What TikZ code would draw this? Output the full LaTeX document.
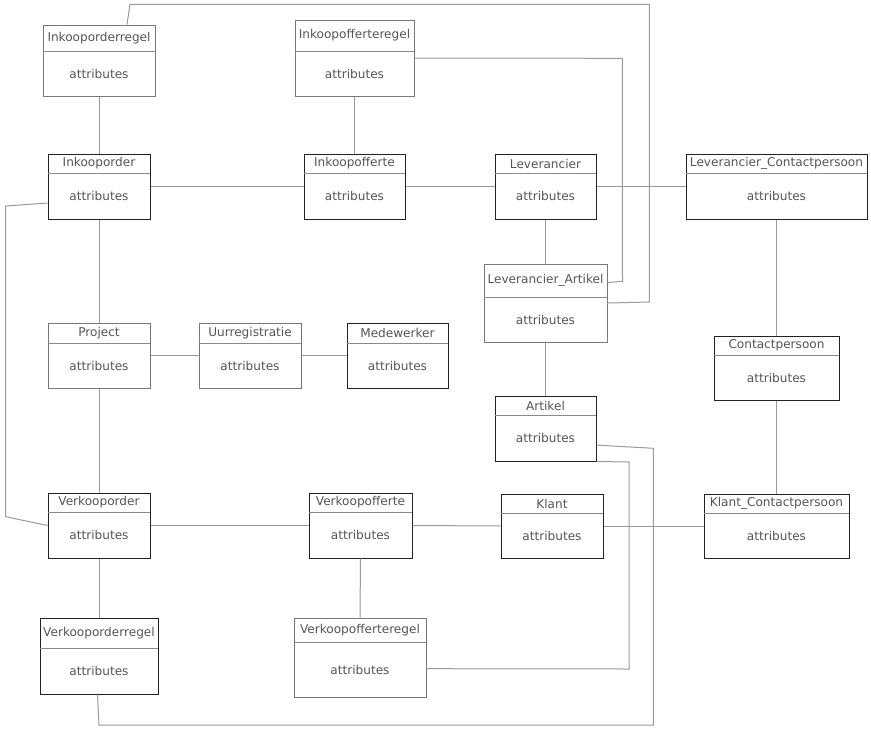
\documentclass[tikz,border=0pt]{standalone}
\usepackage{fontspec}
\setmainfont{DejaVu Sans}
\usetikzlibrary{fit}
\definecolor{txt}{HTML}{555555}
\definecolor{dk}{HTML}{222222}
\definecolor{gr}{HTML}{787878}
\definecolor{hd}{HTML}{8A8A8A}
\definecolor{cn}{HTML}{9A9A9A}
\tikzset{
  lbl/.style={text=txt, font=\fontsize{12.1}{14}\selectfont, inner sep=0pt},
  hdr/.style={draw=hd, line width=1pt},
  conn/.style={draw=cn, line width=1pt},
}
\newcommand\ent[8]{%
  \node[fit={(#2,#3) (#4,#5)}, inner sep=0pt, draw=#8, line width=1pt] (#1) {};
  \draw[hdr] (#2,#6) -- (#4,#6);
  \node[lbl] (#1-t) at ({(#2+#4)/2},{(#3+#6)/2}) {#7};
  \node[lbl] (#1-a) at ({(#2+#4)/2},{(#6+#5)/2}) {attributes};
}
\begin{document}
\begin{tikzpicture}[x=1pt,y=-1pt]
\fill[white] (0,0) rectangle (871,729);
\useasboundingbox (0,0) rectangle (871,729);
\ent{ior}{43}{25}{155}{96}{51}{Inkooporderregel}{gr}
\ent{iofr}{295}{20}{414}{96}{51}{Inkoopofferteregel}{gr}
\ent{io}{48}{154}{150}{219}{173}{Inkooporder}{dk}
\ent{iof}{304}{154}{405}{219}{173}{Inkoopofferte}{dk}
\ent{lev}{495}{154}{596}{219}{173}{Leverancier}{dk}
\ent{lcp}{686}{154}{867}{219}{173}{Leverancier\_Contactpersoon}{dk}
\ent{lart}{484}{264}{607}{342}{297}{Leverancier\_Artikel}{gr}
\ent{art}{495}{396}{596}{461}{415}{Artikel}{dk}
\ent{cp}{714}{336}{839}{400}{355}{Contactpersoon}{dk}
\ent{prj}{48}{323}{150}{388}{343}{Project}{gr}
\ent{uur}{199}{323}{301}{388}{343}{Uurregistratie}{gr}
\ent{med}{347}{323}{448}{388}{343}{Medewerker}{dk}
\ent{vo}{48}{493}{150}{558}{512}{Verkooporder}{dk}
\ent{vof}{309}{493}{412}{558}{512}{Verkoopofferte}{dk}
\ent{kl}{501}{494}{603}{558}{513}{Klant}{dk}
\ent{kcp}{704}{494}{849}{558}{513}{Klant\_Contactpersoon}{dk}
\ent{vor}{40}{618}{158}{694}{648}{Verkooporderregel}{dk}
\ent{vofr}{294}{618}{426}{697}{642}{Verkoopofferteregel}{gr}
% straight connectors
\draw[conn] (ior.south) -- (io.north);
\draw[conn] (iofr.south) -- (iof.north);
\draw[conn] (io.east) -- (iof.west);
\draw[conn] (iof.east) -- (lev.west);
\draw[conn] (lev.east) -- (lcp.west);
\draw[conn] (lev.south) -- (lart.north);
\draw[conn] (lart.south) -- (art.north);
\draw[conn] (lcp.south) -- (cp.north);
\draw[conn] (cp.south) -- (kcp.north);
\draw[conn] (io.south) -- (prj.north);
\draw[conn] (prj.south) -- (vo.north);
\draw[conn] (prj.east) -- (uur.west);
\draw[conn] (uur.east) -- (med.west);
\draw[conn] (vo.east) -- (vof.west);
\draw[conn] (vof.east) -- (kl.west);
\draw[conn] (kl.east) -- (kcp.west);
\draw[conn] (vo.south) -- (vor.north);
\draw[conn] (vof.south) -- (vofr.north);
% routed connectors
\coordinate (r1a) at (130,4.3);
\coordinate (r1b) at (649.3,4.3);
\coordinate (r1c) at (649.3,302);
\draw[conn] ([xshift=28pt]ior.north) -- (r1a) -- (r1b) -- (r1c) -- (lart.east);
\coordinate (r2a) at (622.3,58.3);
\coordinate (r2b) at (622.5,281.3);
\draw[conn] (iofr.east) -- (r2a) -- (r2b) -- ([yshift=20.5pt]lart.east);
\coordinate (r3a) at (5.7,206);
\coordinate (r3b) at (5.7,516.7);
\draw[conn] ([yshift=-16.5pt]io.west) -- (r3a) -- (r3b) -- (vo.west);
\coordinate (r4a) at (653.3,448.3);
\coordinate (r4b) at (653.3,725);
\coordinate (r4c) at (99,725);
\draw[conn] ([yshift=-16.6pt]art.east) -- (r4a) -- (r4b) -- (r4c) -- ([xshift=-1.5pt]vor.south);
\coordinate (r5a) at (629,462);
\coordinate (r5b) at (629,669);
\draw[conn] (art.south east) -- (r5a) -- (r5b) -- ([yshift=-11.2pt]vofr.east);
\end{tikzpicture}
\end{document}
